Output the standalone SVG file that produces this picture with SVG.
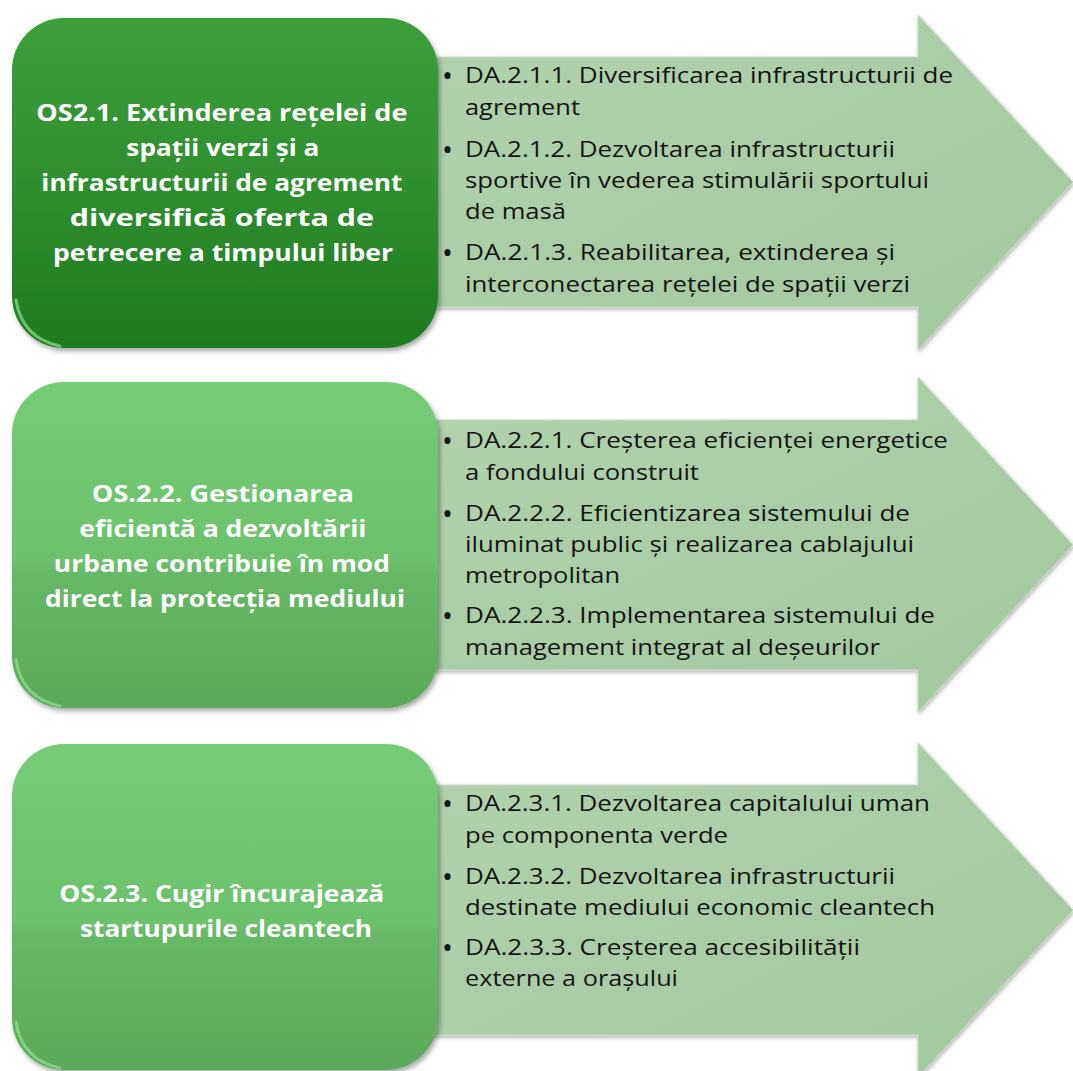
<svg xmlns="http://www.w3.org/2000/svg" width="1073" height="1071" viewBox="0 0 1073 1071">
  <defs>
    <linearGradient id="gDark" x1="0" y1="0" x2="0" y2="1">
      <stop offset="0" stop-color="#3d9e3b"/>
      <stop offset="0.5" stop-color="#2f8f2f"/>
      <stop offset="1" stop-color="#1f7a21"/>
    </linearGradient>
    <linearGradient id="gLight" x1="0" y1="0" x2="0" y2="1">
      <stop offset="0" stop-color="#76cc76"/>
      <stop offset="0.55" stop-color="#6cc26c"/>
      <stop offset="0.58" stop-color="#66b966"/>
      <stop offset="1" stop-color="#5aa95a"/>
    </linearGradient>
    <linearGradient id="gArrow" x1="0" y1="0" x2="1" y2="1">
      <stop offset="0" stop-color="#b0d3ac"/>
      <stop offset="1" stop-color="#a2c89e"/>
    </linearGradient>
    <filter id="shadow" x="-5%" y="-5%" width="115%" height="115%">
      <feDropShadow dx="2" dy="3" stdDeviation="2.5" flood-color="#000" flood-opacity="0.35"/>
    </filter>
    <filter id="ashadow" x="-5%" y="-5%" width="115%" height="115%">
      <feDropShadow dx="1" dy="2" stdDeviation="2" flood-color="#000" flood-opacity="0.3"/>
    </filter>
  </defs>
  <style>
    .arrow{fill:url(#gArrow);stroke:#c9d9c6;stroke-width:1;filter:url(#ashadow)}
    .box{stroke:none;filter:url(#shadow)}
    .dark{fill:url(#gDark)}
    .light{fill:url(#gLight)}
    .rim{fill:none;stroke:#8ee08e;stroke-width:3;stroke-linecap:round;opacity:0.7}
    .os{font-family:"Open Sans","Noto Sans","Liberation Sans",sans-serif;font-weight:700;font-size:24px;fill:#ffffff;text-anchor:middle}
    .da{font-family:"Open Sans","Noto Sans","Liberation Sans",sans-serif;font-size:22px;fill:#141414}
    .b{font-size:29px}
  </style>
  <rect width="1073" height="1071" fill="#ffffff"/>

  <g id="connectors"></g>

  <g id="arrow1">
    <path class="arrow" d="M420,57 H918 V15 L1073,182 L918,350 V307 H420 Z"/>
    <text class="da">
      <tspan class="b" x="442" y="86">•</tspan>
      <tspan x="465" y="83" textLength="488" lengthAdjust="spacingAndGlyphs">DA.2.1.1. Diversificarea infrastructurii de</tspan>
      <tspan x="465" y="115" textLength="115" lengthAdjust="spacingAndGlyphs">agrement</tspan>
      <tspan class="b" x="442" y="160">•</tspan>
      <tspan x="465" y="157" textLength="430" lengthAdjust="spacingAndGlyphs">DA.2.1.2. Dezvoltarea infrastructurii</tspan>
      <tspan x="465" y="188" textLength="464" lengthAdjust="spacingAndGlyphs">sportive în vederea stimulării sportului</tspan>
      <tspan x="465" y="219" textLength="101" lengthAdjust="spacingAndGlyphs">de masă</tspan>
      <tspan class="b" x="442" y="263">•</tspan>
      <tspan x="465" y="260" textLength="430" lengthAdjust="spacingAndGlyphs">DA.2.1.3. Reabilitarea, extinderea și</tspan>
      <tspan x="465" y="292" textLength="445" lengthAdjust="spacingAndGlyphs">interconectarea rețelei de spații verzi</tspan>
    </text>
  </g>
  <g id="arrow2">
    <path class="arrow" d="M420,420 H918 V377 L1073,545 L918,712 V670 H420 Z"/>
    <text class="da">
      <tspan class="b" x="442" y="451">•</tspan>
      <tspan x="465" y="448" textLength="483" lengthAdjust="spacingAndGlyphs">DA.2.2.1. Creșterea eficienței energetice</tspan>
      <tspan x="465" y="480" textLength="234" lengthAdjust="spacingAndGlyphs">a fondului construit</tspan>
      <tspan class="b" x="442" y="524">•</tspan>
      <tspan x="465" y="521" textLength="445" lengthAdjust="spacingAndGlyphs">DA.2.2.2. Eficientizarea sistemului de</tspan>
      <tspan x="465" y="552" textLength="449" lengthAdjust="spacingAndGlyphs">iluminat public și realizarea cablajului</tspan>
      <tspan x="465" y="583" textLength="155" lengthAdjust="spacingAndGlyphs">metropolitan</tspan>
      <tspan class="b" x="442" y="626">•</tspan>
      <tspan x="465" y="623" textLength="470" lengthAdjust="spacingAndGlyphs">DA.2.2.3. Implementarea sistemului de</tspan>
      <tspan x="465" y="655" textLength="415" lengthAdjust="spacingAndGlyphs">management integrat al deșeurilor</tspan>
    </text>
  </g>
  <g id="arrow3">
    <path class="arrow" d="M420,785 H918 V743 L1073,910 L918,1077 V1035 H420 Z"/>
    <text class="da">
      <tspan class="b" x="442" y="814">•</tspan>
      <tspan x="465" y="811" textLength="465" lengthAdjust="spacingAndGlyphs">DA.2.3.1. Dezvoltarea capitalului uman</tspan>
      <tspan x="465" y="843" textLength="263" lengthAdjust="spacingAndGlyphs">pe componenta verde</tspan>
      <tspan class="b" x="442" y="887">•</tspan>
      <tspan x="465" y="884" textLength="430" lengthAdjust="spacingAndGlyphs">DA.2.3.2. Dezvoltarea infrastructurii</tspan>
      <tspan x="465" y="915" textLength="470" lengthAdjust="spacingAndGlyphs">destinate mediului economic cleantech</tspan>
      <tspan class="b" x="442" y="958">•</tspan>
      <tspan x="465" y="955" textLength="395" lengthAdjust="spacingAndGlyphs">DA.2.3.3. Creșterea accesibilității</tspan>
      <tspan x="465" y="986" textLength="213" lengthAdjust="spacingAndGlyphs">externe a orașului</tspan>
    </text>
  </g>

  <g id="os21">
    <rect class="box dark" x="12" y="18" width="426" height="330" rx="52" ry="52"/>
    <path class="rim" d="M16,300 Q22,338 60,346" stroke="#5fcf5f"/>
    <text class="os">
      <tspan x="225" y="121" textLength="371" lengthAdjust="spacingAndGlyphs">OS2.1. Extinderea rețelei de</tspan>
      <tspan x="226" y="156" textLength="193" lengthAdjust="spacingAndGlyphs">spații verzi și a</tspan>
      <tspan x="225" y="191" textLength="361" lengthAdjust="spacingAndGlyphs">infrastructurii de agrement</tspan>
      <tspan x="225" y="226" textLength="304" lengthAdjust="spacingAndGlyphs">diversifică oferta de</tspan>
      <tspan x="223" y="261" textLength="340" lengthAdjust="spacingAndGlyphs">petrecere a timpului liber</tspan>
    </text>
  </g>
  <g id="os22">
    <rect class="box light" x="12" y="382" width="426" height="326" rx="52" ry="52"/>
    <path class="rim" d="M16,660 Q22,698 60,706"/>
    <text class="os">
      <tspan x="226" y="502" textLength="262" lengthAdjust="spacingAndGlyphs">OS.2.2. Gestionarea</tspan>
      <tspan x="226" y="537" textLength="287" lengthAdjust="spacingAndGlyphs">eficientă a dezvoltării</tspan>
      <tspan x="225" y="572" textLength="336" lengthAdjust="spacingAndGlyphs">urbane contribuie în mod</tspan>
      <tspan x="225" y="607" textLength="360" lengthAdjust="spacingAndGlyphs">direct la protecția mediului</tspan>
    </text>
  </g>
  <g id="os23">
    <rect class="box light" x="12" y="744" width="426" height="326" rx="52" ry="52"/>
    <path class="rim" d="M16,1022 Q22,1060 60,1068"/>
    <text class="os">
      <tspan x="225" y="902" textLength="325" lengthAdjust="spacingAndGlyphs">OS.2.3. Cugir încurajează</tspan>
      <tspan x="226" y="937" textLength="292" lengthAdjust="spacingAndGlyphs">startupurile cleantech</tspan>
    </text>
  </g>
</svg>
